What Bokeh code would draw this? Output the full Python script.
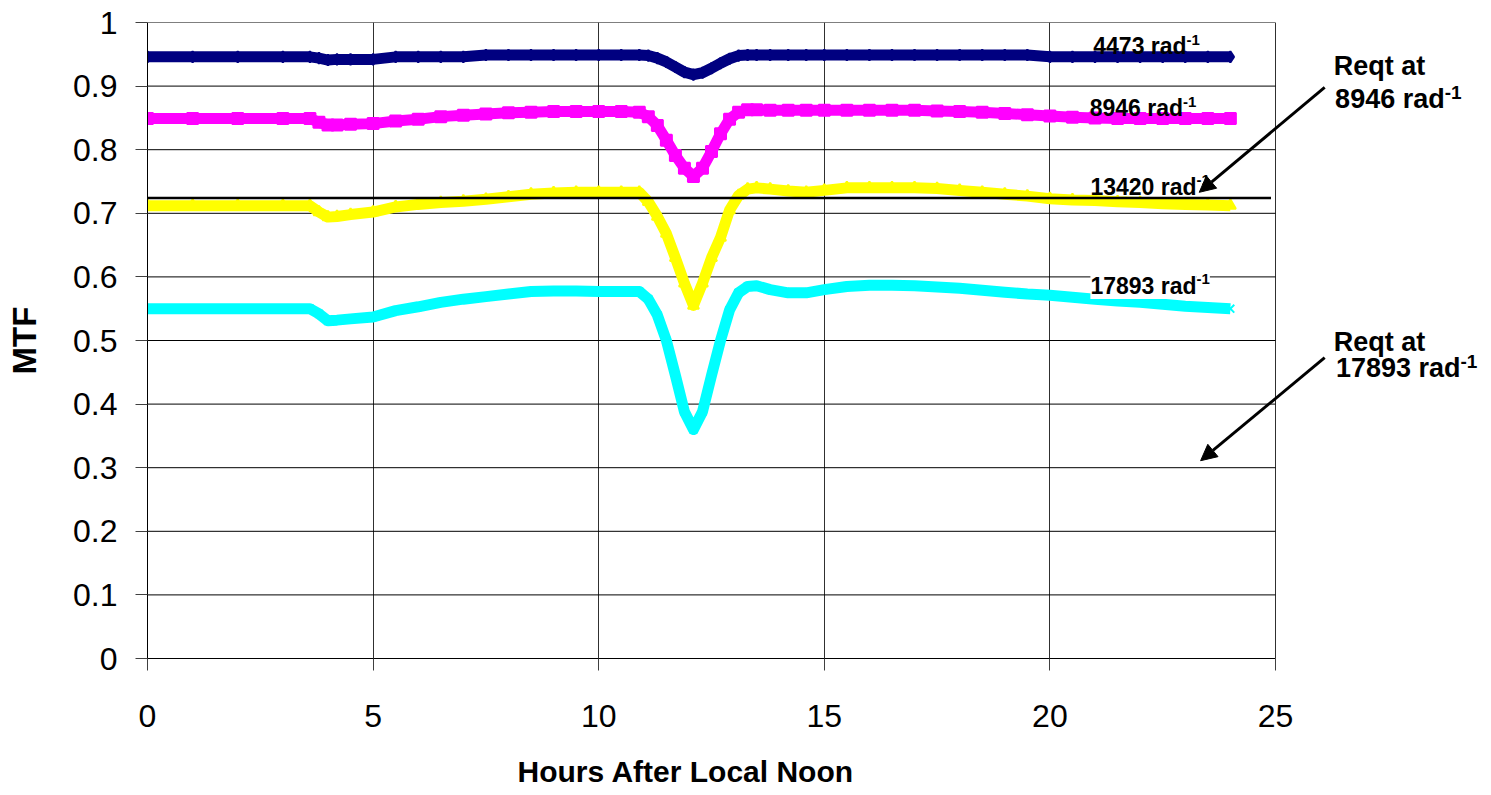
from bokeh.plotting import figure
from bokeh.models import Range1d, FixedTicker, CustomJSTickFormatter, Label, Arrow, NormalHead, Title
from bokeh.embed import file_html
from bokeh.resources import INLINE

hours = [0, 1, 2, 3, 3.6, 3.8, 4.0, 4.2, 4.5, 5.0, 5.5, 6.0, 6.5, 7.0, 7.5, 8.0, 8.5, 9.0, 9.5, 10.0, 10.5,
         10.9, 11.1, 11.3, 11.5, 11.7, 11.9, 12.1, 12.3, 12.5, 12.7, 12.9, 13.1, 13.3, 13.5,
         13.8, 14.2, 14.6, 15.0, 15.5, 16.0, 16.5, 17.0, 17.5, 18.0, 18.5, 19.0, 19.5,
         20.0, 20.5, 21.0, 21.5, 22.0, 22.5, 23.0, 23.5, 24.0]

mtf_4473 = [0.946, 0.946, 0.946, 0.946, 0.946, 0.944, 0.941, 0.942, 0.942,
            0.942, 0.946, 0.946, 0.946, 0.946, 0.949, 0.949, 0.949, 0.949, 0.949, 0.949, 0.949,
            0.949, 0.948, 0.944, 0.938, 0.930, 0.922, 0.918, 0.921, 0.928, 0.936, 0.943, 0.948, 0.949, 0.949,
            0.949, 0.949, 0.949, 0.949, 0.949, 0.949, 0.949, 0.949, 0.949, 0.949, 0.949, 0.949, 0.949,
            0.946, 0.946, 0.946, 0.946, 0.946, 0.946, 0.946, 0.946, 0.946]

mtf_8946 = [0.849, 0.849, 0.849, 0.849, 0.849, 0.843, 0.839, 0.839, 0.840,
            0.841, 0.845, 0.848, 0.852, 0.854, 0.856, 0.858, 0.859, 0.860, 0.860, 0.860, 0.860,
            0.859, 0.852, 0.838, 0.815, 0.791, 0.771, 0.758, 0.771, 0.797, 0.825, 0.848, 0.859, 0.863, 0.863,
            0.862, 0.862, 0.862, 0.862, 0.862, 0.862, 0.862, 0.862, 0.861, 0.860, 0.859, 0.857, 0.855,
            0.853, 0.851, 0.850, 0.849, 0.849, 0.849, 0.849, 0.849, 0.849]

mtf_13420 = [0.712, 0.712, 0.712, 0.712, 0.712, 0.702, 0.694, 0.695, 0.698,
             0.702, 0.710, 0.714, 0.717, 0.719, 0.722, 0.726, 0.730, 0.732, 0.733, 0.733, 0.733,
             0.733, 0.718, 0.695, 0.668, 0.630, 0.590, 0.555, 0.590, 0.630, 0.662, 0.705, 0.728, 0.738, 0.740,
             0.738, 0.735, 0.733, 0.736, 0.740, 0.740, 0.740, 0.740, 0.739, 0.736, 0.733, 0.730, 0.727,
             0.723, 0.721, 0.720, 0.718, 0.717, 0.715, 0.714, 0.713, 0.712]

mtf_17893 = [0.550, 0.550, 0.550, 0.550, 0.550, 0.542, 0.531, 0.532, 0.534,
             0.537, 0.547, 0.553, 0.560, 0.565, 0.569, 0.573, 0.577, 0.578, 0.578, 0.577, 0.577,
             0.577, 0.565, 0.540, 0.500, 0.445, 0.388, 0.360, 0.388, 0.445, 0.500, 0.548, 0.575, 0.585, 0.586,
             0.580, 0.575, 0.575, 0.580, 0.585, 0.587, 0.587, 0.586, 0.584, 0.582, 0.579, 0.576, 0.573,
             0.571, 0.568, 0.565, 0.562, 0.560, 0.557, 0.554, 0.552, 0.550]

reqt_value = 0.724
reqt_hours = [0, 24.9]

x_ticks = [0, 5, 10, 15, 20, 25]
y_ticks = [0, 0.1, 0.2, 0.3, 0.4, 0.5, 0.6, 0.7, 0.8, 0.9, 1.0]
x_max = 25

FONT = "Liberation Sans"

# frame extends to the right of x=25 so the call-outs can sit in the margin
p = figure(frame_width=1336, frame_height=636,
           min_border_left=147, min_border_right=0, min_border_top=22, min_border_bottom=136,
           x_range=Range1d(0, 29.61), y_range=Range1d(0, 1),
           output_backend="svg", toolbar_location=None)

p.background_fill_color = "white"
p.border_fill_color = "white"
p.outline_line_color = None

p.xgrid.ticker = FixedTicker(ticks=x_ticks)
p.xgrid.grid_line_color = "#303030"
p.xgrid.grid_line_width = 1
p.ygrid.grid_line_color = None

# horizontal grid lines limited to the plot area (0..25)
p.segment(x0=[0] * len(y_ticks), x1=[x_max] * len(y_ticks), y0=y_ticks, y1=y_ticks,
          line_color="black", line_width=1)

for ax in (p.xaxis[0], p.yaxis[0]):
    ax.axis_line_color = "black"
    ax.axis_line_width = 1
    ax.major_tick_in = 0
    ax.major_tick_out = 12
    ax.major_tick_line_color = "#404040"
    ax.minor_tick_line_color = None
    ax.major_label_text_font = FONT
    ax.major_label_text_font_size = "32px"
    ax.major_label_text_color = "black"
    ax.axis_label_text_font = FONT
    ax.axis_label_text_font_style = "bold"
    ax.axis_label_text_color = "black"

p.xaxis.bounds = (0, x_max)
p.xaxis.ticker = FixedTicker(ticks=x_ticks)
p.yaxis.ticker = FixedTicker(ticks=y_ticks)
p.yaxis.formatter = CustomJSTickFormatter(code="return String(Math.round(tick*10)/10);")
p.xaxis.major_label_standoff = 34
p.yaxis.major_label_standoff = 18
p.yaxis.axis_label = "MTF"
p.yaxis.axis_label_text_font_size = "33px"
p.yaxis.axis_label_standoff = 27

# x-axis title, placed under the axis and centred on the 0..25 plot area
p.add_layout(Title(text="Hours After Local Noon", align="left", offset=370, standoff=46,
                   text_font=FONT, text_font_style="bold", text_font_size="30px",
                   text_color="black"), "below")

series = [
    (mtf_4473, "#000080", "diamond", 11),
    (mtf_8946, "#FF00FF", "square", 11),
    (mtf_13420, "#FFFF00", "triangle", 11),
    (mtf_17893, "#00FFFF", "x", 11),
]
for vals, col, mk, sz in series:
    p.line(hours, vals, line_color=col, line_width=11, line_join="round")
    p.scatter(hours, vals, marker=mk, size=sz, fill_color=col, line_color=col, line_width=2)

p.line(reqt_hours, [reqt_value, reqt_value], line_color="black", line_width=2.5)


def sup_label(text, x, y, sup_y, size, sup_size, bg=None):
    kw = {}
    if bg:
        kw = dict(background_fill_color=bg)
    p.add_layout(Label(x=x, y=y, text=text, text_align="right", text_baseline="alphabetic",
                       text_font=FONT, text_font_style="bold", text_font_size=size,
                       text_color="black", **kw))
    p.add_layout(Label(x=x, y=sup_y, text="-1", text_align="left", text_baseline="alphabetic",
                       text_font=FONT, text_font_style="bold", text_font_size=sup_size,
                       text_color="black", **kw))


sup_label("4473 rad", 23.03, 0.9628, 0.9730, "23px", "15px")
sup_label("8946 rad", 22.95, 0.8655, 0.8755, "23px", "15px")
sup_label("13420 rad", 23.25, 0.7420, 0.7525, "23px", "15px")
sup_label("17893 rad", 23.25, 0.5855, 0.5965, "23px", "15px", bg="white")

# requirement call-outs
p.add_layout(Label(x=26.29, y=0.932, text="Reqt at", text_align="left", text_baseline="alphabetic",
                   text_font=FONT, text_font_style="bold", text_font_size="27px", text_color="black"))
sup_label("8946 rad", 28.75, 0.8805, 0.8900, "27px", "19px")
p.add_layout(Label(x=26.29, y=0.4984, text="Reqt at", text_align="left", text_baseline="alphabetic",
                   text_font=FONT, text_font_style="bold", text_font_size="27px", text_color="black"))
sup_label("17893 rad", 29.10, 0.4560, 0.4670, "27px", "19px")

p.add_layout(Arrow(end=NormalHead(size=16, fill_color="black", line_color="black"),
                   x_start=26.09, y_start=0.898, x_end=23.31, y_end=0.733,
                   line_width=3, line_color="black"))
p.add_layout(Arrow(end=NormalHead(size=16, fill_color="black", line_color="black"),
                   x_start=26.09, y_start=0.473, x_end=23.34, y_end=0.311,
                   line_width=3, line_color="black"))

open("out.html", "w").write(file_html(p, INLINE))
